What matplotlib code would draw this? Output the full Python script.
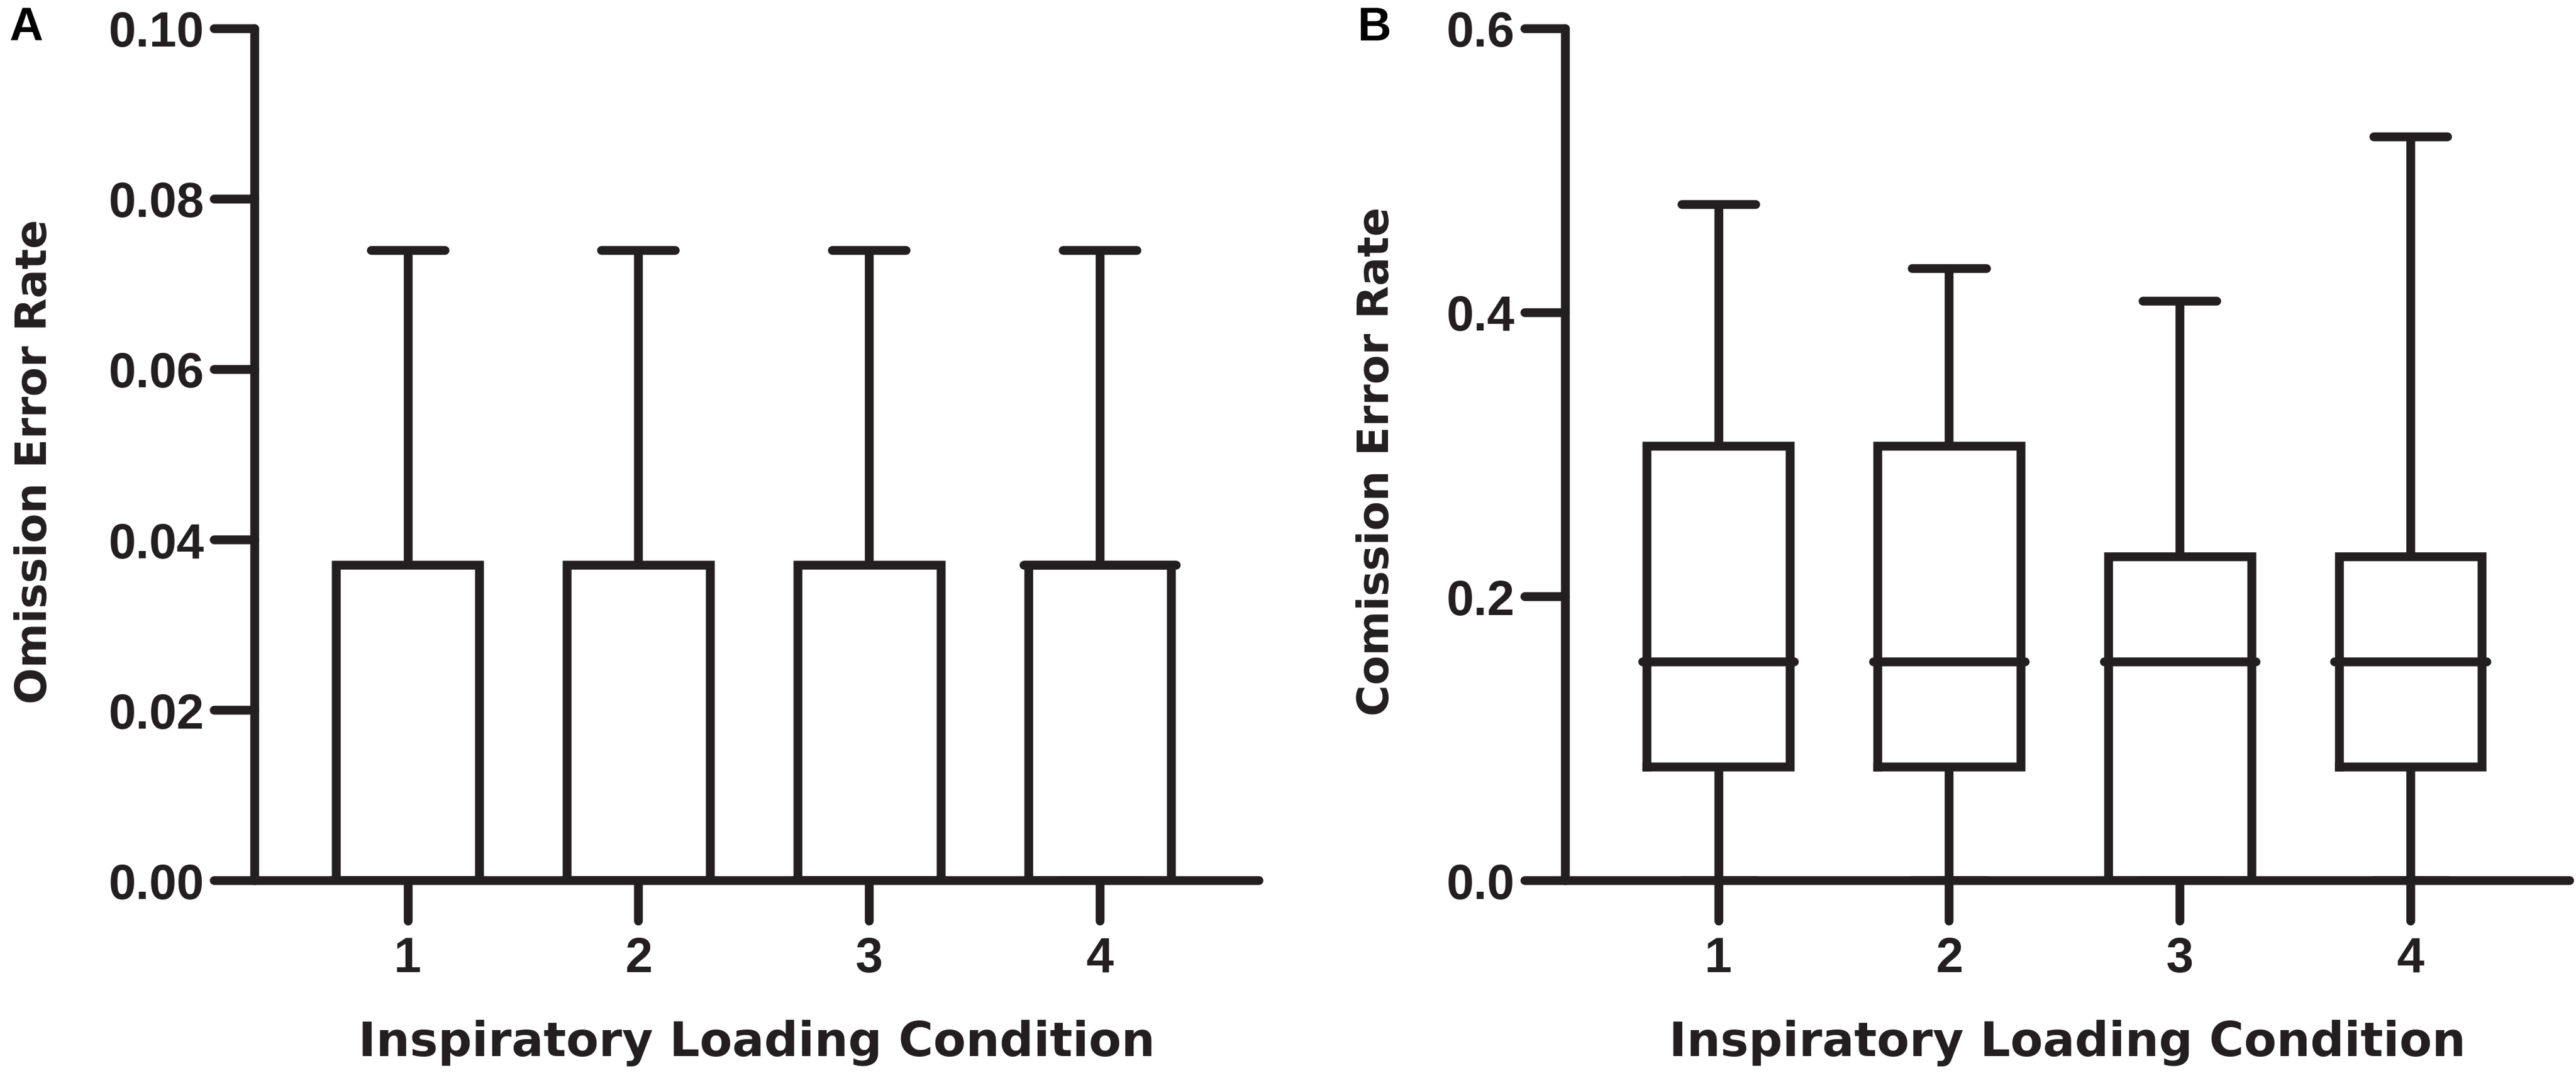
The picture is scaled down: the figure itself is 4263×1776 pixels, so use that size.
import numpy as np
import matplotlib.pyplot as plt
from matplotlib.ticker import FormatStrFormatter
from matplotlib.markers import MarkerStyle, TICKDOWN, TICKLEFT

# values
conditions = [1, 2, 3, 4]

omission_lo = [0.0, 0.0, 0.0, 0.0]
omission_q1 = [0.0, 0.0, 0.0, 0.0]
omission_med = [0.0, 0.0, 0.0, 0.037]
omission_q3 = [0.037, 0.037, 0.037, 0.037]
omission_hi = [0.074, 0.074, 0.074, 0.074]

commission_lo = [0.0, 0.0, 0.0, 0.0]
commission_q1 = [0.080, 0.080, 0.0, 0.080]
commission_med = [0.154, 0.154, 0.154, 0.154]
commission_q3 = [0.306, 0.306, 0.228, 0.228]
commission_hi = [0.476, 0.431, 0.408, 0.524]

omission_ticks = [0.0, 0.02, 0.04, 0.06, 0.08, 0.10]
commission_ticks = [0.0, 0.2, 0.4, 0.6]

ink = '#231f20'
lw = 3.5
box_w = 0.62
tick_font = 'Liberation Sans'
label_font = 'DejaVu Sans'


def make_stats(lo, q1, med, q3, hi):
    return [dict(whislo=a, q1=b, med=c, q3=d, whishi=e, fliers=[])
            for a, b, c, d, e in zip(lo, q1, med, q3, hi)]


fig = plt.figure(figsize=(4263 / 300, 1777 / 300), dpi=300)
axA = fig.add_axes([0.0988, 0.1795, 0.3899, 0.7935])
axB = fig.add_axes([0.6076, 0.1795, 0.3899, 0.7935])

panels = [
    (axA, omission_lo, omission_q1, omission_med, omission_q3, omission_hi,
     omission_ticks, (0, 0.10), '%.2f'),
    (axB, commission_lo, commission_q1, commission_med, commission_q3, commission_hi,
     commission_ticks, (0, 0.6), '%.1f'),
]

for ax, lo, q1, med, q3, hi, yt, ylim, fmt in panels:
    ax.bxp(make_stats(lo, q1, med, q3, hi), positions=conditions, widths=box_w, capwidths=0.32,
           showfliers=False, manage_ticks=False,
           boxprops=dict(color=ink, linewidth=lw, solid_joinstyle='miter'),
           whiskerprops=dict(color=ink, linewidth=lw, solid_capstyle='butt'),
           capprops=dict(color=ink, linewidth=lw, solid_capstyle='round'),
           medianprops=dict(visible=False))
    # median bars stick out a little past the box, as in the original
    x = np.array(conditions, dtype=float)
    half = box_w / 2 + 0.019
    ax.hlines(med, x - half, x + half, colors=ink, linewidth=lw, capstyle='round', zorder=2.2)

    ax.set_xlim(0.336, 4.69)
    ax.set_ylim(*ylim)
    ax.set_xticks(conditions)
    ax.set_yticks(yt)
    ax.yaxis.set_major_formatter(FormatStrFormatter(fmt))
    for s in ['top', 'right']:
        ax.spines[s].set_visible(False)
    for s in ['left', 'bottom']:
        ax.spines[s].set_linewidth(lw)
        ax.spines[s].set_color(ink)
        ax.spines[s].set_capstyle('round')
        ax.spines[s].set_zorder(3)
    ax.tick_params(axis='both', direction='out', length=16, width=lw, color=ink)
    ax.tick_params(axis='x', pad=6)
    ax.tick_params(axis='y', pad=4)
    for t in ax.xaxis.get_major_ticks():
        t.tick1line.set_marker(MarkerStyle(TICKDOWN, capstyle='round'))
    for t in ax.yaxis.get_major_ticks():
        t.tick1line.set_marker(MarkerStyle(TICKLEFT, capstyle='round'))
    for lab in ax.get_xticklabels() + ax.get_yticklabels():
        lab.set_fontfamily(tick_font)
        lab.set_fontweight('bold')
        lab.set_fontsize(19.5)
        lab.set_color(ink)

# axis titles
fig.text(0.2937, 1 - 1748 / 1777, 'Inspiratory Loading Condition', ha='center', va='baseline',
         family=label_font, weight='bold', fontsize=18.8, color=ink)
fig.text(0.8025, 1 - 1748 / 1777, 'Inspiratory Loading Condition', ha='center', va='baseline',
         family=label_font, weight='bold', fontsize=18.8, color=ink)
fig.text(0.0134, 1 - 764 / 1777, 'Omission Error Rate', rotation=90, ha='center', va='center',
         family=label_font, weight='bold', fontsize=17, color=ink)
fig.text(0.5346, 1 - 764 / 1777, 'Comission Error Rate', rotation=90, ha='center', va='center',
         family=label_font, weight='bold', fontsize=17, color=ink)

# panel letters
fig.text(15 / 4263, 1 - 67 / 1777, 'A', ha='left', va='baseline',
         family=tick_font, weight='bold', fontsize=18.5, color='black')
fig.text(2247 / 4263, 1 - 67 / 1777, 'B', ha='left', va='baseline',
         family=tick_font, weight='bold', fontsize=18.5, color='black')

fig.savefig('out.png', dpi=300)
